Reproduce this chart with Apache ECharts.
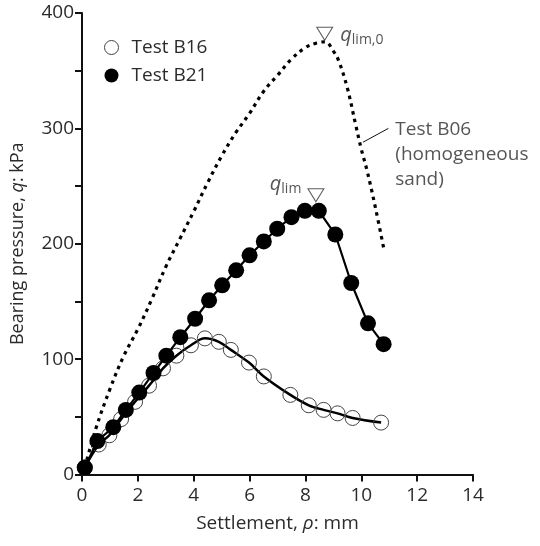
<!DOCTYPE html>
<html>
<head>
<meta charset="utf-8">
<script src="https://cdn.jsdelivr.net/npm/echarts@6/dist/echarts.min.js"></script>
<style>html,body{margin:0;padding:0;background:#fff}#c{width:540px;height:546px}</style>
</head>
<body>
<div id="c"></div>
<script>
// Test B06 (homogeneous sand) - dotted curve
var b06X = [0.1,0.5,1.0,1.5,2.0,2.5,3.0,3.5,4.0,4.5,5.0,5.5,6.0,6.5,7.0,7.5,8.0,8.4,8.7,9.0,9.2,9.5,9.8,10.0,10.2,10.5,10.82];
var b06Q = [6,40,74,103,126,152,180,204,228,253,276,296,313,332,346,360,370,374,375,367,358,335,303,282,264,232,194];
// Test B21 (filled circles)
var b21X = [0.1,0.55,1.12,1.57,2.05,2.56,3.02,3.52,4.05,4.55,5.02,5.52,6.0,6.51,6.99,7.5,7.98,8.48,9.07,9.64,10.24,10.8];
var b21Q = [6,29,41,56,71,88,103,119,135,151,164,177,190,202,213,223,228.5,228.5,208,166,131,113];
// Test B16 (open circles)
var b16X = [0.1,0.6,0.98,1.4,1.9,2.4,2.9,3.38,3.9,4.4,4.9,5.33,5.98,6.51,7.46,8.12,8.65,9.15,9.69,10.71];
var b16Q = [6,26,34,48,63,77,92,103,112,118,115,108,97,85,69,60,56,53,49,45];
// annotations
var qlim0Pt = [8.69, 382];
var qlimPt = [8.375, 242];
var b06Leader = [[10.06, 288], [10.97, 300]];
var b06LabelPt = [11.2, 277];
var xTicks = [0,2,4,6,8,10,12,14];
var yTicks = [0,100,200,300,400];

function pairs(xs, ys){ return xs.map(function(x,i){return [x, ys[i]];}); }

var FONT = '"Open Sans", "DejaVu Sans", sans-serif';
var TXT = '#2b2b2b';

var chart = echarts.init(document.getElementById('c'), null, {renderer:'canvas'});
chart.setOption({
  animation:false,
  backgroundColor:'#fff',
  textStyle:{fontFamily:FONT, color:TXT},
  grid:{left:82, right:67, top:13, bottom:71.5, containLabel:false},
  legend:{
    orient:'vertical', left:99, top:33, itemGap:9, itemWidth:14, itemHeight:14,
    textStyle:{fontFamily:FONT, fontSize:19, color:TXT, padding:[0,0,0,8]},
    data:[
      {name:'Test B16', icon:'circle', itemStyle:{color:'#fff', borderColor:'#444', borderWidth:1}},
      {name:'Test B21', icon:'circle', itemStyle:{color:'#000', borderWidth:0}}
    ]
  },
  xAxis:{
    type:'value', min:xTicks[0], max:xTicks[xTicks.length-1], interval:2,
    name:'Settlement, {i|ρ}: mm', nameLocation:'middle', nameGap:40,
    nameTextStyle:{fontFamily:FONT, fontSize:19, color:TXT, rich:{i:{fontFamily:FONT, fontStyle:'italic', fontSize:19, color:TXT}}},
    axisLine:{onZero:false, lineStyle:{color:'#111', width:2}},
    axisTick:{show:true, length:7, lineStyle:{color:'#111', width:2}},
    axisLabel:{fontFamily:FONT, fontSize:19, color:TXT, margin:12},
    splitLine:{show:false}
  },
  yAxis:{
    type:'value', min:yTicks[0], max:yTicks[yTicks.length-1], interval:50,
    name:'Bearing pressure, {i|q}: kPa', nameLocation:'middle', nameGap:55,
    nameTextStyle:{fontFamily:FONT, fontSize:18, color:TXT, rich:{i:{fontFamily:FONT, fontStyle:'italic', fontSize:18, color:TXT}}},
    axisLine:{onZero:false, lineStyle:{color:'#111', width:2}},
    axisTick:{show:true, length:7, lineStyle:{color:'#111', width:2}},
    axisLabel:{fontFamily:FONT, fontSize:19, color:TXT, margin:8,
      formatter:function(v){ return yTicks.indexOf(v) >= 0 ? String(v) : ''; }},
    splitLine:{show:false}
  },
  series:[
    {
      name:'Test B06', type:'line', data:pairs(b06X, b06Q), smooth:0.4, showSymbol:false, symbol:'none',
      lineStyle:{color:'#000', width:3.2, type:[3.5,4.5]}, z:2
    },
    {
      name:'leader', type:'line', data:b06Leader, symbol:'none',
      lineStyle:{color:'#111', width:1}, z:2
    },
    {
      name:'Test B16', type:'line', data:pairs(b16X, b16Q), smooth:0.35,
      symbol:'circle', symbolSize:15, showAllSymbol:true,
      itemStyle:{color:'rgba(255,255,255,0)', borderColor:'#444', borderWidth:1},
      lineStyle:{color:'#000', width:2.5}, z:3
    },
    {
      name:'Test B21', type:'line', data:pairs(b21X, b21Q),
      symbol:'circle', symbolSize:16, showAllSymbol:true,
      itemStyle:{color:'#000', borderWidth:0},
      lineStyle:{color:'#000', width:2.2}, z:4
    },
    {
      name:'ann', type:'scatter', z:5,
      symbol:'triangle', symbolRotate:180, symbolSize:[16,13],
      itemStyle:{color:'#fff', borderColor:'#333', borderWidth:1},
      data:[
        {value:qlim0Pt, label:{show:true, position:'right', distance:7, offset:[0,2],
          formatter:'{q|q}{s|lim,0}',
          rich:{q:{fontFamily:FONT, fontStyle:'italic', fontSize:20, color:TXT},
                s:{fontFamily:FONT, fontSize:14, color:TXT, padding:[9,0,0,0]}}}},
        {value:qlimPt, label:{show:true, position:'left', distance:6, offset:[0,-11],
          formatter:'{q|q}{s|lim}',
          rich:{q:{fontFamily:FONT, fontStyle:'italic', fontSize:20, color:TXT},
                s:{fontFamily:FONT, fontSize:14, color:TXT, padding:[9,0,0,0]}}}}
      ]
    },
    {
      name:'b06label', type:'scatter', z:5, symbol:'circle', symbolSize:1,
      itemStyle:{color:'rgba(0,0,0,0)'},
      data:[{value:b06LabelPt, label:{show:true, position:'right', distance:0, align:'left',
        formatter:'Test B06\n(homogeneous\nsand)', fontFamily:FONT, fontSize:19, lineHeight:25, color:TXT}}]
    }
  ]
});
</script>
</body>
</html>
